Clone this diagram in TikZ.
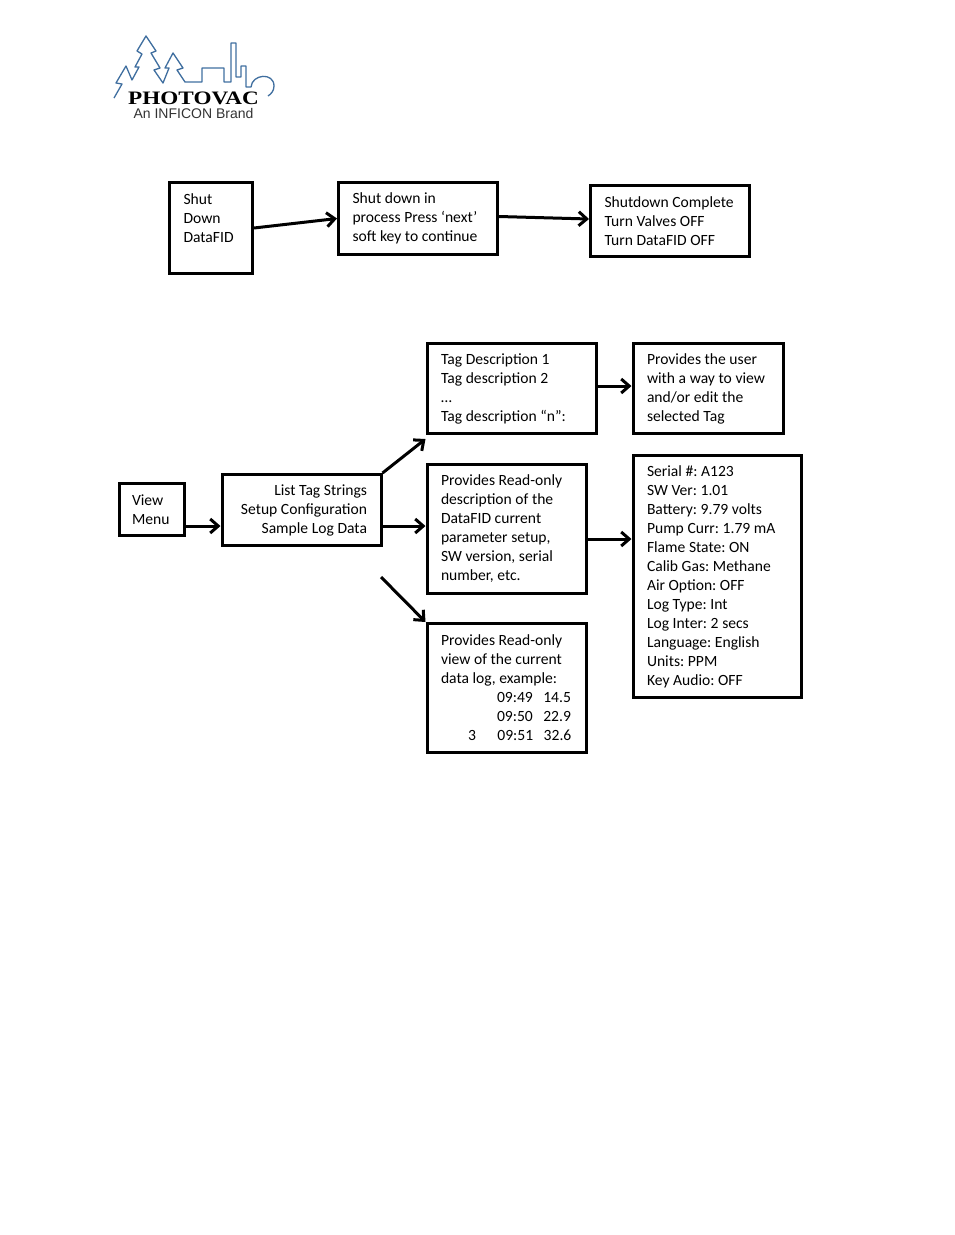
\documentclass[tikz,border=0pt]{standalone}
\usepackage{fontspec}
\setmainfont{Carlito}
\newfontfamily\logoserif{Liberation Serif}
\newfontfamily\logosans{Liberation Sans}
\usetikzlibrary{arrows.meta}
\definecolor{logoblue}{HTML}{3F6E9F}
\tikzset{
    menubox/.style={draw, line width=3pt, inner xsep=14pt, inner ysep=4pt, align=left,
        font=\fontsize{15.6}{19}\selectfont\frenchspacing,
        execute at begin node={\spaceskip=3.6pt\relax}},
    flow/.style={line width=3pt, -{Straight Barb[length=8pt, width=14pt, line width=3pt]}},
}

\begin{document}
\begin{tikzpicture}[x=1pt, y=-1pt]
    \useasboundingbox (0, 0) rectangle (954, 1235);

    % logo
    \draw[logoblue, line width=1.3pt, line join=round] (114, 98) -- (122, 84) -- (116, 83) -- (126, 66)
        -- (132, 80) -- (139, 67) -- (135, 67) -- (142, 54) -- (137, 51) -- (146, 36) -- (156, 51)
        -- (151, 53) -- (160, 68) -- (154, 70) -- (163, 83) -- (169, 68) -- (165, 68) -- (173, 53)
        -- (183, 68) -- (177, 70) -- (185, 82) -- (202, 82) -- (202, 68) -- (224, 68) -- (224, 82)
        -- (231, 82) -- (231, 43) -- (236, 43) -- (236, 77) -- (241, 77) -- (241, 66) -- (246, 66)
        -- (246, 87) -- (251, 87) .. controls (252, 74) and (274, 72) .. (274, 86) .. controls (274, 91) and (271, 94) .. (268, 96);
    \node[inner sep=0pt, xscale=1.22, font=\logoserif\bfseries\fontsize{19}{20}\selectfont] at (193.5, 98) (brand) {PHOTOVAC};
    \node[inner sep=0pt, font=\logosans\fontsize{14}{15}\selectfont, text=black!80] at (193.5, 113.5) (tagline) {An INFICON Brand};

    % shut down
    \node[menubox, text width=55pt, minimum height=91pt] at (211, 228) (shut) {Shut\\Down\\DataFID\\\mbox{}};
    \node[menubox, text width=131pt, minimum height=72pt] at (418, 218.5) (process) {Shut down in\\process Press ‘next’\\soft key to continue};
    \node[menubox, text width=131pt, minimum height=71pt] at (670, 221) (complete) {Shutdown Complete\\Turn Valves OFF\\Turn DataFID OFF};

    % view menu
    \node[menubox, inner xsep=13pt, text width=39pt, minimum height=52pt] at (151.5, 509.5) (view) {View\\Menu};
    \node[menubox, text width=131pt, minimum height=71pt, align=right] at (301.5, 510) (list) {List Tag Strings\\Setup Configuration\\Sample Log Data};
    \node[menubox, text width=141pt, minimum height=90pt] at (511.5, 388.5) (tags) {Tag Description 1\\Tag description 2\\…\\Tag description “n”:};
    \node[menubox, text width=122pt, minimum height=90pt] at (708, 388.5) (edit) {Provides the user\\with a way to view\\and/or edit the\\selected Tag};
    \node[menubox, text width=131pt, minimum height=129pt] at (506.5, 529) (setup) {Provides Read-only\\description of the\\DataFID current\\parameter setup,\\SW version, serial\\number, etc.};
    \node[menubox, text width=140pt, minimum height=242pt] at (717, 576.5) (serial) {Serial \#: A123\\SW Ver: 1.01\\Battery: 9.79 volts\\Pump Curr: 1.79 mA\\Flame State: ON\\Calib Gas: Methane\\Air Option: OFF\\Log Type: Int\\Log Inter: 2 secs\\Language: English\\Units: PPM\\Key Audio: OFF};
    \node[menubox, text width=131pt, minimum height=129pt] at (506.5, 688) (log) {Provides Read-only\\view of the current\\data log, example:\\
        \hspace*{56pt}09:49\hspace{10.5pt}14.5\\
        \hspace*{56pt}09:50\hspace{10.5pt}22.9\\
        \hspace*{27pt}3\hspace{21.5pt}09:51\hspace{10.5pt}32.6};
    \coordinate (logstart) at (381, 577);

    \draw[flow] (shut.east) -- (process.west);
    \draw[flow] ([yshift=2pt]process.east) -- ([yshift=2pt]complete.west);
    \draw[flow] ([yshift=2.5pt]tags.east) -- ([yshift=2.5pt]edit.west);
    \draw[flow] ([yshift=-16.5pt]view.east) -- ([yshift=-16pt]list.west);
    \draw[flow] (list.north east) -- ([yshift=-4pt]tags.south west);
    \draw[flow] ([yshift=-16pt]list.east) -- ([yshift=3pt]setup.west);
    \draw[flow] (logstart) -- (log.north west);
    \draw[flow] ([yshift=-10pt]setup.east) -- ([yshift=37.5pt]serial.west);
\end{tikzpicture}
\end{document}
